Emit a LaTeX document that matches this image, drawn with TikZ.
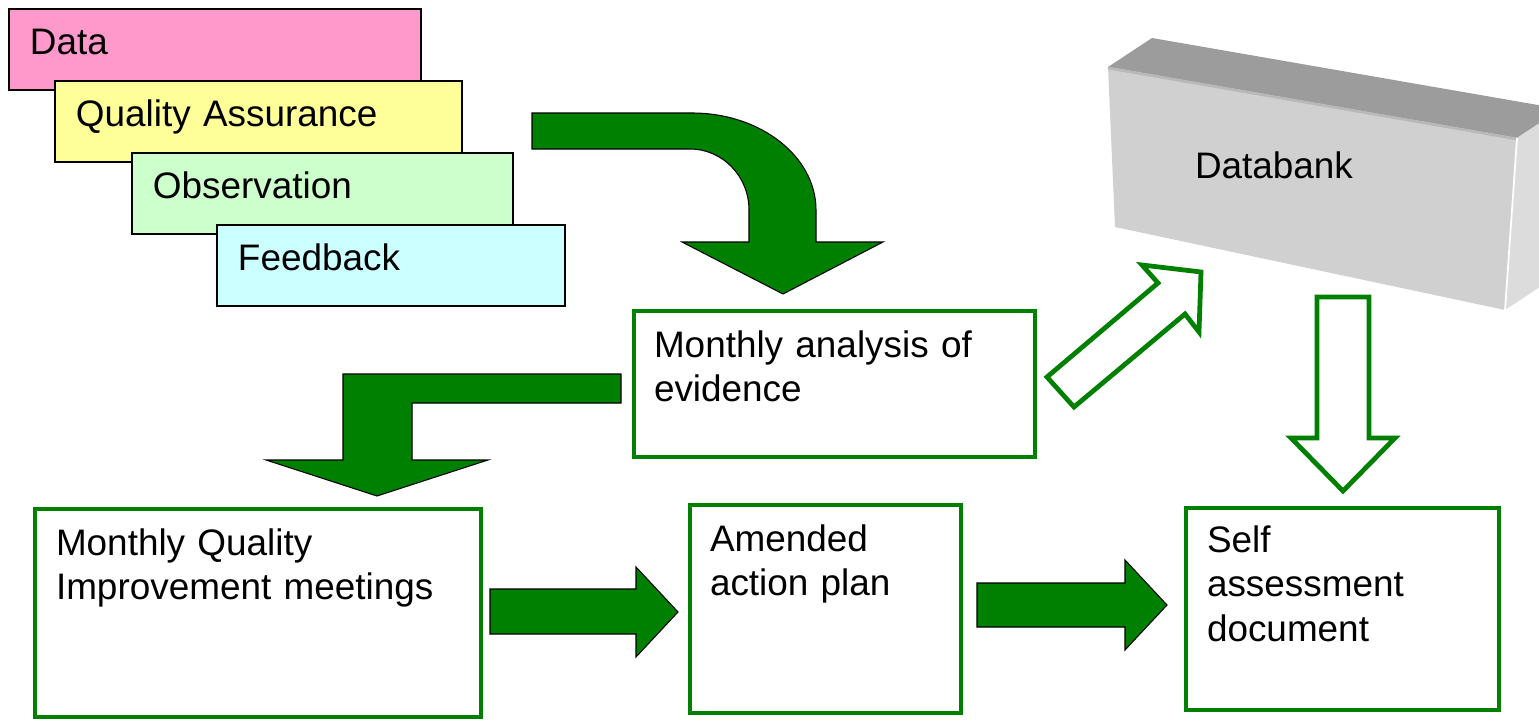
\documentclass[tikz,border=0pt]{standalone}
\usepackage{fontspec}
\setmainfont{Liberation Sans}

\definecolor{arrowgreen}{HTML}{008000}
\definecolor{datapink}{HTML}{FF99CC}
\definecolor{qayellow}{HTML}{FFFF99}
\definecolor{obsgreen}{HTML}{CCFFCC}
\definecolor{fbcyan}{HTML}{CCFFFF}
\definecolor{banktop}{HTML}{9C9C9C}
\definecolor{bankedge}{HTML}{B8B8B8}
\definecolor{bankfront}{HTML}{D0D0D0}
\definecolor{bankside}{HTML}{DCDCDC}

\begin{document}
\begin{tikzpicture}[x=0.02cm, y=-0.02cm,
  every node/.style={font=\fontsize{21}{25.6}\selectfont, inner sep=0pt, outer sep=0pt},
  stack/.style={draw=black, line width=0.85pt, anchor=north west, inner xsep=0.42cm,
    text width=#1, text height=0.92cm, text depth=0.70cm, align=left},
  gbox/.style={draw=arrowgreen, line width=2.7pt, anchor=north west},
  lbl/.style={anchor=base west, align=left},
  fillarrow/.style={fill=arrowgreen, draw=black, line width=0.6pt},
  openarrow/.style={fill=white, draw=arrowgreen, line width=2.7pt}]
  \useasboundingbox (0,0) rectangle (1539,720);
  \clip (0,0) rectangle (1539,720);

  % Sources of evidence
  \node[stack=7.40cm, fill=datapink] (data) at (9,9) {Data};
  \node[stack=7.30cm, fill=qayellow] (qa) at (55,81) {Quality Assurance};
  \node[stack=6.78cm, fill=obsgreen] (obs) at (132,153) {Observation};
  \node[stack=6.12cm, fill=fbcyan] (fb) at (217,225) {Feedback};

  % Curved arrow down to the analysis
  \draw[fillarrow] (532,113) -- (692,113)
    .. controls (760.5,113) and (816,156.4) .. (816,210)
    -- (816,242) -- (883,242) -- (783,294) -- (682,242) -- (749,242) -- (749,210)
    .. controls (749,176.3) and (722.6,149) .. (690,149)
    -- (532,149) -- cycle;

  % Bent arrow to the meetings
  \draw[fillarrow] (621,374) -- (343,374) -- (343,460) -- (266,460) -- (377,496)
    -- (488,460) -- (412,460) -- (412,403) -- (621,403) -- cycle;

  % Process boxes
  \node[gbox, minimum width=8.02cm, minimum height=2.92cm] (analysis) at (634,311) {};
  \node[lbl, text width=7.5cm] (analysis-t) at ([shift={(20,46)}]analysis.north west)
    {Monthly analysis of\\evidence};
  \node[gbox, minimum width=8.92cm, minimum height=4.16cm] (meeting) at (35,509) {};
  \node[lbl, text width=8.4cm] (meeting-t) at ([shift={(21,46)}]meeting.north west)
    {Monthly Quality\\Improvement meetings};
  \node[gbox, minimum width=5.42cm, minimum height=4.16cm] (plan) at (690,505) {};
  \node[lbl, text width=5cm] (plan-t) at ([shift={(20,46)}]plan.north west)
    {Amended\\action plan};
  \node[gbox, minimum width=6.26cm, minimum height=4.04cm] (selfdoc) at (1186,508) {};
  \node[lbl, text width=5.8cm] (selfdoc-t) at ([shift={(21,44)}]selfdoc.north west)
    {Self\\assessment\\document};

  % Block arrows between the boxes
  \draw[fillarrow] (490,589) -- (636,589) -- (636,567) -- (678,612) -- (636,657)
    -- (636,634) -- (490,634) -- cycle;
  \draw[fillarrow] (977,583) -- (1125,583) -- (1125,560) -- (1167,605) -- (1125,650)
    -- (1125,627) -- (977,627) -- cycle;

  % Databank block
  \fill[banktop] (1108,67) -- (1152,38) -- (1561,109) -- (1517,138) -- cycle;
  \fill[bankfront] (1108,67) -- (1517,138) -- (1505,310) -- (1115,227) -- cycle;
  \fill[bankside] (1517,138) -- (1561,109) -- (1549,281) -- (1505,310) -- cycle;
  \draw[bankedge, line width=1.5pt] (1108,68) -- (1517,139);
  \draw[white, line width=1pt] (1517,138) -- (1505,310);
  \node[anchor=base west] (bank) at (1195,178) {Databank};

  % Hollow arrows to and from the databank
  \draw[openarrow] (1047,377) -- (1158,283) -- (1142,265) -- (1201,272) -- (1199,332)
    -- (1185,314) -- (1074,407) -- cycle;
  \draw[openarrow] (1317,297) -- (1369,297) -- (1369,438) -- (1395,438) -- (1343,491)
    -- (1291,438) -- (1317,438) -- cycle;
\end{tikzpicture}
\end{document}
